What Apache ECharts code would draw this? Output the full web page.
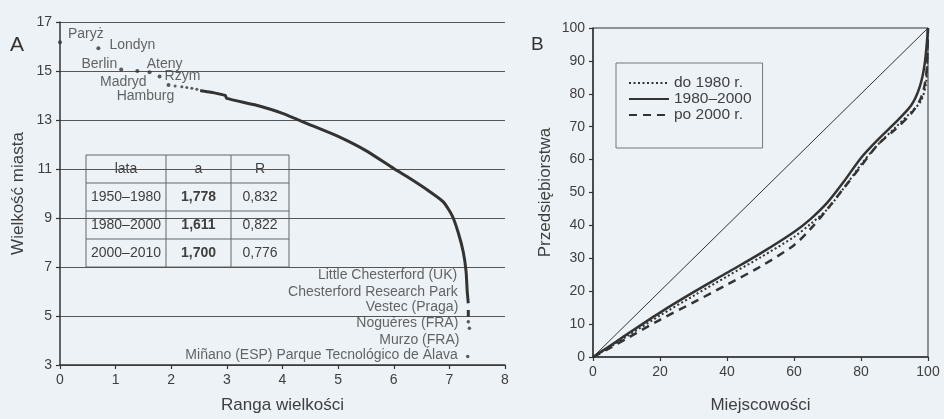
<!DOCTYPE html>
<html>
<head>
<meta charset="utf-8">
<script src="https://cdn.jsdelivr.net/npm/echarts@6/dist/echarts.min.js"></script>
<style>
html, body { margin: 0; padding: 0; background: #ecf2f6; }
#chart { width: 944px; height: 419px; }
</style>
</head>
<body>
<div id="chart"></div>
<script>
var myChart = echarts.init(document.getElementById('chart'));

// --- panel A: ranga / wielkość (skala log) ---
var bigCities = ['Paryż', 'Londyn', 'Berlin', 'Madryd', 'Ateny', 'Rzym', 'Hamburg'];
var bigCityValues = [[0, 16.17], [0.69, 15.93], [1.10, 15.06], [1.39, 15.0], [1.61, 14.95], [1.79, 14.78], [1.95, 14.43]];
var nextDots = [[2.07, 14.39], [2.19, 14.36], [2.28, 14.33], [2.37, 14.3], [2.46, 14.26]];
var rankCurve = [[2.52, 14.2], [2.6, 14.17], [2.75, 14.12], [2.97, 14.0], [3.0, 13.88], [3.5, 13.62],
    [4.0, 13.27], [4.5, 12.8], [5.0, 12.33], [5.5, 11.75], [6.0, 11.02], [6.3, 10.6], [6.6, 10.15],
    [6.89, 9.66], [7.05, 9.1], [7.16, 8.4], [7.25, 7.61], [7.3, 6.82], [7.32, 6.03], [7.34, 5.52]];
var curveTail = [[7.34, 5.25], [7.34, 4.97]];
var smallPlaces = ['Little Chesterford (UK)', 'Chesterford Research Park', 'Vestec (Praga)',
    'Noguères (FRA)', 'Murzo (FRA)', 'Miñano (ESP) Parque Tecnológico de Álava'];
var smallPlaceValues = [[7.32, 6.66], [7.33, 5.99], [7.34, 5.36], [7.34, 4.77], [7.36, 4.5], [7.33, 3.35]];

// tabela
var tableHead = ['lata', 'a', 'R'];
var tablePeriods = ['1950–1980', '1980–2000', '2000–2010'];
var tableA = ['1,778', '1,611', '1,700'];
var tableR = ['0,832', '0,822', '0,776'];

// --- panel B: krzywe koncentracji ---
var seriesNames = ['do 1980 r.', '1980–2000', 'po 2000 r.'];
var before1980 = [[0, 0], [5, 3], [10, 6.2], [20, 12.6], [30, 18.6], [40, 24.5], [50, 30.3], [60, 36.5],
    [65, 40.5], [70, 45], [75, 51.5], [80, 58.5], [85, 64.5], [90, 69.5], [95, 74.5], [98, 78], [99.5, 84], [100, 100]];
var y1980to2000 = [[0, 0], [5, 3.3], [10, 6.8], [20, 13.5], [30, 19.7], [40, 25.6], [50, 31.5], [60, 38],
    [65, 42], [70, 47], [75, 53.5], [80, 60.5], [85, 66], [90, 71], [95, 76.5], [97.5, 82], [99, 89], [100, 100]];
var after2000 = [[0, 0], [5, 2.7], [10, 5.6], [20, 11.3], [30, 16.6], [40, 22], [50, 27.5], [60, 34],
    [65, 39], [70, 45], [75, 51.5], [80, 58], [85, 64.5], [90, 69], [95, 74], [98, 79], [99.5, 86], [100, 100]];
var equality = [[0, 0], [100, 100]];

var ink = '#333';
var txt = '#3f3f3f';
var bg = '#ecf2f6';

// label placement: [align, dx, dy]
var bigLabelPos = {
    'Paryż': ['left', 8, -8],
    'Londyn': ['left', 11, -3],
    'Berlin': ['right', -4, -5],
    'Madryd': ['center', -14, 11],
    'Ateny': ['center', 15, -8],
    'Rzym': ['left', 5, 0],
    'Hamburg': ['center', -23, 11]
};
var smallLabelDy = [0, 0, 0, 2, 12, -1];

function axisCommon(extra) {
    var a = {
        type: 'value',
        axisLine: { show: true, lineStyle: { color: ink, width: 1.5 } },
        axisTick: { show: true, length: 4, lineStyle: { color: ink, width: 1.2 } },
        axisLabel: { color: txt, fontSize: 14 },
        splitLine: { show: false },
        nameLocation: 'middle',
        nameTextStyle: { color: txt, fontSize: 17 }
    };
    for (var k in extra) a[k] = extra[k];
    return a;
}

// tabela jako grafika
var tx = 86, ty = 155, colW = [80, 65, 58], rowH = 28;
var tableChildren = [{
    type: 'rect',
    shape: { x: 0, y: 0, width: colW[0] + colW[1] + colW[2], height: rowH * 4 },
    style: { fill: bg, stroke: '#666', lineWidth: 1 }
}];
var cx = 0;
for (var c = 0; c < 2; c++) {
    cx += colW[c];
    tableChildren.push({ type: 'line', shape: { x1: cx, y1: 0, x2: cx, y2: rowH * 4 }, style: { stroke: '#666', lineWidth: 1 } });
}
for (var r = 1; r < 4; r++) {
    tableChildren.push({ type: 'line', shape: { x1: 0, y1: r * rowH, x2: colW[0] + colW[1] + colW[2], y2: r * rowH }, style: { stroke: '#666', lineWidth: 1 } });
}
var colCenters = [colW[0] / 2, colW[0] + colW[1] / 2, colW[0] + colW[1] + colW[2] / 2];
var rows = [tableHead];
for (var i = 0; i < tablePeriods.length; i++) rows.push([tablePeriods[i], tableA[i], tableR[i]]);
rows.forEach(function (row, ri) {
    row.forEach(function (cell, ci) {
        tableChildren.push({
            type: 'text',
            x: colCenters[ci], y: ri * rowH + rowH / 2,
            style: {
                text: cell, fill: txt, align: 'center', verticalAlign: 'middle',
                font: (ri > 0 && ci === 1 ? 'bold ' : '') + '14px "Liberation Sans", Arial, sans-serif'
            }
        });
    });
});

option = {
    backgroundColor: bg,
    textStyle: { fontFamily: '"Liberation Sans", Arial, sans-serif' },
    animation: false,
    title: [
        { text: 'A', left: 5, top: 30, textStyle: { fontSize: 21, fontWeight: 'normal', color: ink } },
        { text: 'B', left: 526, top: 30, textStyle: { fontSize: 19, fontWeight: 'normal', color: ink } }
    ],
    grid: [
        { left: 60, top: 22, width: 445, height: 354 },
        { left: 593, top: 28, width: 335, height: 343, show: true, borderColor: ink, borderWidth: 1, backgroundColor: 'transparent' }
    ],
    legend: {
        data: seriesNames,
        orient: 'vertical',
        left: 616, top: 63,
        padding: [12, 11, 25, 12],
        itemWidth: 40, itemHeight: 12, itemGap: 0,
        borderColor: '#777', borderWidth: 1,
        itemStyle: { opacity: 0 },
        textStyle: { fontSize: 15.5, color: txt }
    },
    xAxis: [
        axisCommon({ gridIndex: 0, min: 0, max: 8, interval: 1, name: 'Ranga wielkości', nameGap: 32 }),
        axisCommon({ gridIndex: 1, min: 0, max: 100, interval: 20, name: 'Miejscowości', nameGap: 40 })
    ],
    yAxis: [
        axisCommon({ gridIndex: 0, min: 3, max: 17, interval: 2, name: 'Wielkość miasta', nameGap: 33,
            splitLine: { show: true, lineStyle: { color: '#555', width: 1 } } }),
        axisCommon({ gridIndex: 1, min: 0, max: 100, interval: 10, name: 'Przedsiębiorstwa', nameGap: 39 })
    ],
    graphic: [{ type: 'group', x: tx, y: ty, children: tableChildren, z: 10 }],
    series: [
        {
            type: 'scatter', xAxisIndex: 0, yAxisIndex: 0, clip: false,
            symbolSize: 4, itemStyle: { color: ink },
            data: bigCityValues.map(function (v, i) {
                var p = bigLabelPos[bigCities[i]];
                return {
                    name: bigCities[i], value: v,
                    label: { show: true, position: 'inside', align: p[0], verticalAlign: 'middle', offset: [p[1], p[2]],
                        formatter: '{b}', color: txt, fontSize: 14 }
                };
            })
        },
        {
            type: 'scatter', xAxisIndex: 0, yAxisIndex: 0,
            symbolSize: 3, itemStyle: { color: ink }, data: nextDots
        },
        {
            type: 'line', xAxisIndex: 0, yAxisIndex: 0, symbol: 'none', smooth: 0.2,
            lineStyle: { color: ink, width: 3 }, data: rankCurve
        },
        {
            type: 'line', xAxisIndex: 0, yAxisIndex: 0, symbol: 'none',
            lineStyle: { color: ink, width: 3 }, data: curveTail
        },
        {
            type: 'scatter', xAxisIndex: 0, yAxisIndex: 0, clip: false,
            itemStyle: { color: ink },
            data: smallPlaceValues.map(function (v, i) {
                return {
                    name: smallPlaces[i], value: v,
                    symbolSize: i >= 3 ? 3.5 : 0,
                    label: { show: true, position: 'inside', align: 'right', verticalAlign: 'middle',
                        offset: [-10, smallLabelDy[i]], formatter: '{b}', color: txt, fontSize: 14 }
                };
            })
        },
        {
            type: 'line', xAxisIndex: 1, yAxisIndex: 1, symbol: 'none', silent: true,
            lineStyle: { color: ink, width: 1 }, data: equality
        },
        {
            name: seriesNames[0], type: 'line', xAxisIndex: 1, yAxisIndex: 1, symbol: 'none', smooth: 0.3,
            itemStyle: { color: ink },
            lineStyle: { color: ink, width: 2, type: [2, 2.5] }, data: before1980
        },
        {
            name: seriesNames[1], type: 'line', xAxisIndex: 1, yAxisIndex: 1, symbol: 'none', smooth: 0.3,
            itemStyle: { color: ink },
            lineStyle: { color: ink, width: 2.5 }, data: y1980to2000
        },
        {
            name: seriesNames[2], type: 'line', xAxisIndex: 1, yAxisIndex: 1, symbol: 'none', smooth: 0.3,
            itemStyle: { color: ink },
            lineStyle: { color: ink, width: 2.5, type: [8, 6] }, data: after2000
        }
    ]
};
myChart.setOption(option);
</script>
</body>
</html>
